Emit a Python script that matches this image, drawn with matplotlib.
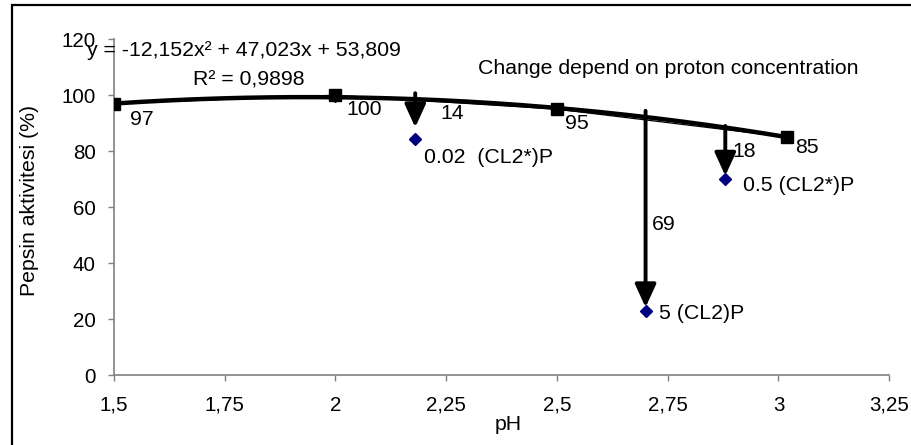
import numpy as np
import matplotlib
matplotlib.use("Agg")
import matplotlib.pyplot as plt
from matplotlib.patches import Rectangle

plt.rcParams['font.family'] = ['Liberation Sans', 'DejaVu Sans']

# Control series (square markers)
ph_control = [1.5, 2.0, 2.5, 3.02]
act_control = [97, 100, 95, 85]

# Chlorinated samples (diamond markers)
ph_treated = [2.0, 2.18, 2.7, 2.88]
act_treated = [99.6, 84.5, 23, 70]
treated_names = [None, "0.02  (CL2*)P", "5 (CL2)P", "0.5 (CL2*)P"]

# Drop in activity relative to the trend
drop_ph = [2.18, 2.7, 2.88]
drop_vals = [14, 69, 18]

# Quadratic trendline coefficients
coef = [-12.152, 47.023, 53.809]
r2 = 0.9898

xticks = [1.5, 1.75, 2.0, 2.25, 2.5, 2.75, 3.0, 3.25]
xtick_labels = ["1,5", "1,75", "2", "2,25", "2,5", "2,75", "3", "3,25"]
yticks = [0, 20, 40, 60, 80, 100, 120]

fig = plt.figure(figsize=(9.12, 4.45), dpi=100)
ax = fig.add_axes([0.125, 0.157, 0.85, 0.755])
fig.patches.append(Rectangle((0.0135, -0.05), 1.2, 1.039, transform=fig.transFigure,
                             fill=False, edgecolor='black', linewidth=1.6))

poly = np.poly1d(coef)
xs = np.linspace(1.5, 3.02, 200)
ax.plot(xs, poly(xs), color='black', linewidth=3.2, zorder=3)
ax.plot(ph_control, act_control, color='black', linewidth=0.9, zorder=3)
ax.plot(ph_control, act_control, linestyle='none', marker='s', markersize=8,
        color='black', zorder=5)
ax.plot(ph_treated, act_treated, linestyle='none', marker='D', markersize=5.8,
        color='#000080', zorder=4)

fs = 15.3
fs_tick = 14.8
px = 72 / 100  # points per pixel

# value labels for control points
ctrl_offsets = [(16, -16), (11, -14), (8, -14), (8, -10)]
for x, y, (dx, dy) in zip(ph_control, act_control, ctrl_offsets):
    ax.annotate(f"{y:g}", (x, y), xytext=(dx * px, dy * px), textcoords='offset points',
                fontsize=fs, ha='left', va='center')

# labels for treated samples
name_offsets = [None, (9, -19), (13, -3), (18, -6)]
for x, y, name, off in zip(ph_treated, act_treated, treated_names, name_offsets):
    if name is None:
        continue
    ax.annotate(name, (x, y), xytext=(off[0] * px, off[1] * px),
                textcoords='offset points', fontsize=fs, ha='left', va='center')

# arrows from the trend down to the treated samples
arrow_tops = [100.7, 94.4, 89]
for x, top in zip(drop_ph, arrow_tops):
    idx = ph_treated.index(x)
    bottom = act_treated[idx] + (4 if x == 2.18 else 1.2)
    ax.annotate("", xy=(x, bottom), xytext=(x, top),
                arrowprops=dict(arrowstyle='-|>,head_length=0.7,head_width=0.32',
                                mutation_scale=20, color='black', lw=2.8,
                                shrinkA=0, shrinkB=0),
                zorder=6)

label_pos = [(2.236, 93.3), (2.714, 53.9), (2.897, 79.9)]
for (lx, ly), d in zip(label_pos, drop_vals):
    ax.text(lx, ly, f"{d}", fontsize=fs, ha='left', va='center')

eq = f"y = {coef[0]:.3f}x² + {coef[1]:.3f}x + {coef[2]:.3f}".replace('.', ',')
ax.text(1.439, 115.8, eq, fontsize=fs, ha='left', va='center')
ax.text(1.678, 105.3, f"R² = {r2:.4f}".replace('.', ','), fontsize=fs,
        ha='left', va='center')
ax.text(2.322, 109.5, "Change depend on proton concentration", fontsize=fs,
        ha='left', va='center')

ax.set_xlim(1.5, 3.25)
ax.set_ylim(0, 120)
ax.set_xticks(xticks)
ax.set_xticklabels(xtick_labels)
ax.set_yticks(yticks)
ax.tick_params(axis='both', direction='out', length=4, width=1, color='#808080',
               labelsize=fs_tick)
ax.tick_params(axis='x', pad=11)
ax.tick_params(axis='y', pad=9)
for s in ['top', 'right']:
    ax.spines[s].set_visible(False)
for s in ['left', 'bottom']:
    ax.spines[s].set_color('#808080')
    ax.spines[s].set_linewidth(1.2)

fig.text(508 / 912, 1 - 424 / 445, "pH", fontsize=fs, ha='center', va='center')
fig.text(30 / 912, 1 - 200 / 445, "Pepsin aktivitesi (%)", fontsize=fs,
         ha='center', va='center', rotation=90)

fig.savefig("out.png", dpi=100)
